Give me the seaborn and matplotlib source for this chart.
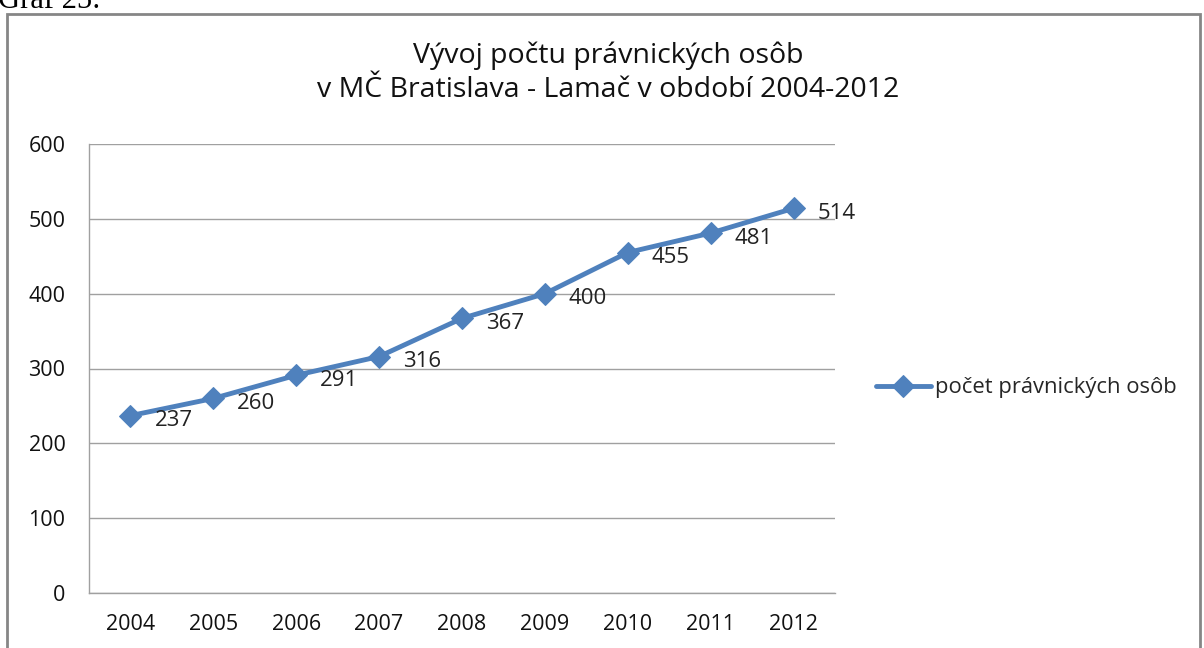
import matplotlib
matplotlib.use("Agg")
import matplotlib.pyplot as plt
import matplotlib.patches as patches
import numpy as np
import pandas as pd
import seaborn as sns

roky = ["2004", "2005", "2006", "2007", "2008", "2009", "2010", "2011", "2012"]
pocet = [237, 260, 291, 316, 367, 400, 455, 481, 514]
nazov_serie = "počet právnických osôb"
titulok = "Vývoj počtu právnických osôb\nv MČ Bratislava - Lamač v období 2004-2012"
y_ticky = [0, 100, 200, 300, 400, 500, 600]

df = pd.DataFrame({"rok": roky, "pocet": pocet})

sns.set_theme(style="white")
plt.rcParams["font.family"] = ["Open Sans", "DejaVu Sans"]

modra = "#4F81BD"
seda = "#A0A0A0"

fig = plt.figure(figsize=(12.04, 6.48), dpi=100)
ax = fig.add_axes([89 / 1204, 1 - 593 / 648, (835 - 89) / 1204, (593 - 144) / 648])

sns.lineplot(data=df, x="rok", y="pocet", ax=ax, color=modra, linewidth=3.5,
             marker="D", markersize=11, markeredgecolor=modra, label=nazov_serie)

for i, v in enumerate(pocet):
    ax.annotate(str(v), (i, v), xytext=(24, -5), textcoords="offset pixels",
                ha="left", va="center", fontsize=16, color="#222222")

ax.set_ylim(0, 600)
ax.set_xlim(-0.5, len(roky) - 0.5)
ax.set_yticks(y_ticky)
ax.yaxis.grid(True, color=seda, linewidth=1)
ax.xaxis.grid(False)
ax.set_axisbelow(True)
for s in ["top", "right"]:
    ax.spines[s].set_visible(False)
for s in ["left", "bottom"]:
    ax.spines[s].set_color(seda)
    ax.spines[s].set_linewidth(1)
ax.tick_params(axis="both", length=0, labelsize=15.5, colors="#111111")
ax.tick_params(axis="y", pad=17)
ax.tick_params(axis="x", pad=15)
ax.set_xlabel("")
ax.set_ylabel("")

fig.text(608 / 1204, 1 - 73 / 648, titulok, ha="center", va="center",
         fontsize=20.5, color="#111111", linespacing=1.3)

leg = ax.legend(loc="center left", bbox_to_anchor=(876 / 1204, 1 - 388 / 648),
                bbox_transform=fig.transFigure, frameon=False, fontsize=15.8,
                handlelength=2.5, handletextpad=0.2, borderpad=0, borderaxespad=0)

# ram grafu
fig.patches.append(patches.Rectangle((7 / 1204, -0.05), (1200 - 7) / 1204, 1.05 - 14 / 648,
                                     transform=fig.transFigure, fill=False,
                                     edgecolor="#868686", linewidth=2))

fig.text(-0.002, 1 - 8 / 648, "Graf 25:", ha="left", va="baseline",
         fontsize=22, family="Liberation Serif", color="black")

fig.savefig("out.png", dpi=100, facecolor="white")
